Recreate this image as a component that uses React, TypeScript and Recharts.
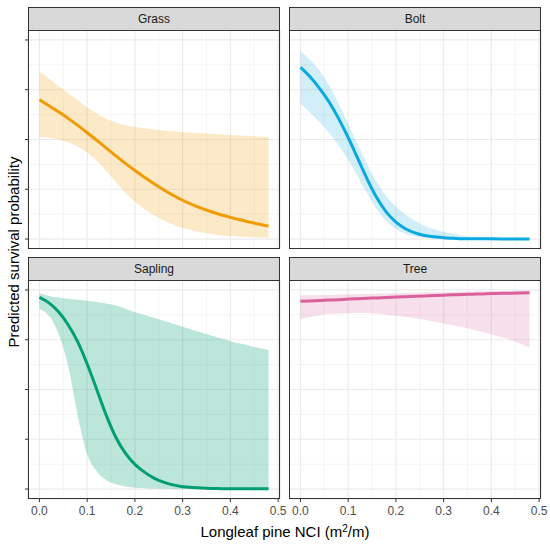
import { ComposedChart, Area, Line, XAxis, YAxis, CartesianGrid } from 'recharts'

// Longleaf pine NCI (m2/m), sampled every 0.02
const NCI = [
  0, 0.02, 0.04, 0.06, 0.08, 0.1, 0.12, 0.14, 0.16, 0.18, 0.2, 0.22, 0.24,
  0.26, 0.28, 0.3, 0.32, 0.34, 0.36, 0.38, 0.4, 0.42, 0.44, 0.46, 0.48,
]

const X_TICKS = [0, 0.1, 0.2, 0.3, 0.4, 0.5]
const X_MINOR = [0.05, 0.15, 0.25, 0.35, 0.45]
const Y_TICKS = [0, 0.25, 0.5, 0.75, 1]
const Y_MINOR = [0.125, 0.375, 0.625, 0.875]

const grassFit = [0.7, 0.67, 0.639, 0.606, 0.571, 0.534, 0.496, 0.457, 0.418, 0.38, 0.344, 0.31, 0.278, 0.248, 0.22, 0.195, 0.173, 0.154, 0.137, 0.122, 0.109, 0.097, 0.085, 0.075, 0.065]
const grassLow = [0.513, 0.509, 0.5, 0.486, 0.465, 0.435, 0.393, 0.342, 0.286, 0.233, 0.188, 0.15, 0.119, 0.093, 0.072, 0.056, 0.043, 0.033, 0.025, 0.019, 0.015, 0.012, 0.01, 0.008, 0.007]
const grassHigh = [0.84, 0.805, 0.769, 0.733, 0.697, 0.662, 0.63, 0.604, 0.585, 0.572, 0.563, 0.556, 0.55, 0.545, 0.541, 0.537, 0.534, 0.531, 0.528, 0.525, 0.523, 0.52, 0.518, 0.515, 0.513]

const boltFit = [0.862, 0.815, 0.757, 0.688, 0.605, 0.51, 0.405, 0.3, 0.207, 0.135, 0.085, 0.052, 0.031, 0.018, 0.011, 0.006, 0.004, 0.002, 0.0015, 0.001, 0.001, 0.0008, 0.0006, 0.0004, 0.0003]
const boltLow = [0.68, 0.636, 0.588, 0.533, 0.47, 0.398, 0.315, 0.228, 0.15, 0.09, 0.05, 0.027, 0.014, 0.007, 0.004, 0.002, 0.001, 0, 0, 0, 0, 0, 0, 0, 0]
const boltHigh = [0.946, 0.9, 0.845, 0.772, 0.68, 0.578, 0.475, 0.375, 0.285, 0.215, 0.163, 0.123, 0.092, 0.067, 0.049, 0.036, 0.026, 0.018, 0.012, 0.008, 0.005, 0.003, 0.002, 0.001, 0.001]

const saplingFit = [0.963, 0.935, 0.89, 0.825, 0.74, 0.628, 0.5, 0.37, 0.26, 0.18, 0.124, 0.085, 0.055, 0.035, 0.021, 0.012, 0.008, 0.005, 0.003, 0.002, 0.001, 0.001, 0.001, 0.001, 0.001]
const saplingLow = [0.904, 0.87, 0.78, 0.62, 0.37, 0.175, 0.09, 0.045, 0.024, 0.013, 0.007, 0.004, 0.002, 0.001, 0, 0, 0, 0, 0, 0, 0, 0, 0, 0, 0]
const saplingHigh = [0.983, 0.97, 0.962, 0.956, 0.951, 0.946, 0.94, 0.932, 0.922, 0.906, 0.888, 0.874, 0.86, 0.845, 0.83, 0.815, 0.8, 0.786, 0.771, 0.757, 0.742, 0.731, 0.72, 0.708, 0.698]

const treeFit = [0.943, 0.945, 0.947, 0.949, 0.951, 0.954, 0.956, 0.958, 0.96, 0.962, 0.964, 0.966, 0.968, 0.97, 0.972, 0.974, 0.976, 0.977, 0.979, 0.98, 0.982, 0.983, 0.984, 0.985, 0.986]
const treeLow = [0.854, 0.864, 0.873, 0.879, 0.882, 0.883, 0.884, 0.884, 0.88, 0.876, 0.871, 0.865, 0.858, 0.85, 0.841, 0.832, 0.823, 0.813, 0.802, 0.79, 0.778, 0.764, 0.75, 0.731, 0.711]
const treeHigh = [0.972, 0.973, 0.974, 0.975, 0.977, 0.978, 0.979, 0.98, 0.981, 0.982, 0.983, 0.985, 0.986, 0.987, 0.988, 0.989, 0.99, 0.991, 0.992, 0.993, 0.994, 0.995, 0.995, 0.996, 0.997]

const FONT = 'Arial, "Liberation Sans", Helvetica, sans-serif'
const PANEL_W = 252
const PANEL_H = 219
const STRIP_H = 24
const Y_AXIS_W = 28
const X_AXIS_H = 26
const RIGHT_PAD = 12

type PanelProps = {
  label: string
  fit: number[]
  low: number[]
  high: number[]
  color: string
  fillOpacity: number
  left: number
  top: number
  showX: boolean
  showY: boolean
}

function Panel({ label, fit, low, high, color, fillOpacity, left, top, showX, showY }: PanelProps) {
  const data = NCI.map((x, i) => ({ x, fit: fit[i], band: [low[i], high[i]] }))
  const yw = showY ? Y_AXIS_W : 0
  const xh = showX ? X_AXIS_H : 0

  return (
    <div style={{ position: 'absolute', left: left - yw, top }}>
      <div
        style={{
          position: 'absolute', left: yw, top: 0, width: PANEL_W, height: STRIP_H,
          boxSizing: 'border-box', border: '1px solid #333333', background: '#D9D9D9',
          color: '#1A1A1A', fontSize: 12, lineHeight: `${STRIP_H - 2}px`, textAlign: 'center',
        }}
      >
        {label}
      </div>
      <div style={{ position: 'absolute', left: 0, top: STRIP_H - 1 }}>
        <ComposedChart
          width={PANEL_W + yw + RIGHT_PAD}
          height={PANEL_H + xh}
          data={data}
          margin={{ top: 0, right: RIGHT_PAD, bottom: 0, left: 0 }}
        >
          <XAxis
            xAxisId="minor" dataKey="x" type="number" domain={[-0.024, 0.504]}
            ticks={X_MINOR} allowDataOverflow hide
          />
          <YAxis
            yAxisId="minor" type="number" domain={[-0.05, 1.05]}
            ticks={Y_MINOR} allowDataOverflow hide
          />
          <CartesianGrid xAxisId="minor" yAxisId="minor" stroke="#F3F3F3" strokeWidth={0.8} />
          <CartesianGrid stroke="#EBEBEB" strokeWidth={1.2} />
          <XAxis
            dataKey="x" type="number" domain={[-0.024, 0.504]} ticks={X_TICKS} interval={0}
            allowDataOverflow hide={!showX} height={X_AXIS_H} axisLine={false}
            tickLine={{ stroke: '#333333' }} tickSize={3} tickMargin={4}
            tick={{ fill: '#4D4D4D', fontSize: 12, fontFamily: FONT }}
            tickFormatter={(v: number) => v.toFixed(1)}
          />
          <YAxis
            type="number" domain={[-0.05, 1.05]} ticks={Y_TICKS} interval={0}
            allowDataOverflow hide={!showY} width={Y_AXIS_W} axisLine={false}
            tickLine={{ stroke: '#333333' }} tickSize={3} tickFormatter={() => ''}
          />
          <Area
            dataKey="band" type="monotone" stroke="none" fill={color}
            fillOpacity={fillOpacity} isAnimationActive={false} activeDot={false}
          />
          <Line
            dataKey="fit" type="monotone" stroke={color} strokeWidth={3}
            dot={false} activeDot={false} isAnimationActive={false}
          />
        </ComposedChart>
      </div>
      <div
        style={{
          position: 'absolute', left: yw, top: STRIP_H - 1, width: PANEL_W, height: PANEL_H,
          boxSizing: 'border-box', border: '1px solid #333333', pointerEvents: 'none',
        }}
      />
    </div>
  )
}

export default function App() {
  return (
    <div
      style={{
        position: 'fixed', left: 0, top: 0, width: 550, height: 544,
        background: '#FFFFFF', fontFamily: FONT, overflow: 'hidden',
      }}
    >
      <Panel label="Grass" fit={grassFit} low={grassLow} high={grassHigh}
        color="#F29B00" fillOpacity={0.22} left={28} top={7} showX={false} showY />
      <Panel label="Bolt" fit={boltFit} low={boltLow} high={boltHigh}
        color="#08A9E0" fillOpacity={0.18} left={289} top={7} showX={false} showY={false} />
      <Panel label="Sapling" fit={saplingFit} low={saplingLow} high={saplingHigh}
        color="#009E73" fillOpacity={0.26} left={28} top={257} showX showY />
      <Panel label="Tree" fit={treeFit} low={treeLow} high={treeHigh}
        color="#D9609B" fillOpacity={0.2} left={289} top={257} showX showY={false} />
      <svg width={550} height={544} style={{ position: 'absolute', left: 0, top: 0, pointerEvents: 'none' }}>
        <text x={285} y={537} textAnchor="middle" fontSize={15} fill="#000000" fontFamily={FONT}>
          Longleaf pine NCI (m<tspan dy={-5} fontSize={10}>2</tspan><tspan dy={5}>/m)</tspan>
        </text>
        <text
          x={13} y={252} textAnchor="middle" dominantBaseline="central" fontSize={15}
          fill="#000000" fontFamily={FONT} transform="rotate(-90 13 252)"
        >
          Predicted survival probability
        </text>
      </svg>
    </div>
  )
}
